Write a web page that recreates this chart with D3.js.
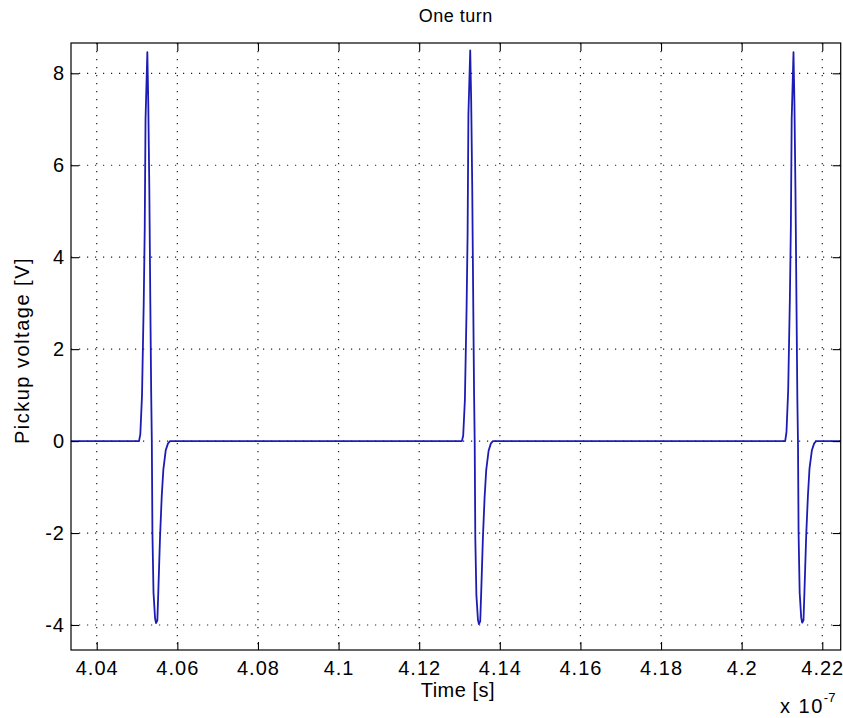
<!DOCTYPE html>
<html>
<head>
<meta charset="utf-8">
<script src="https://cdn.jsdelivr.net/npm/d3@7"></script>
<style>
  html, body { margin: 0; padding: 0; background: #fff; }
  svg { display: block; }
  text { font-family: "Liberation Sans", Arial, Helvetica, sans-serif; fill: #000; }
</style>
</head>
<body>
<svg id="chart" width="843" height="718"></svg>
<script>
// Time values are in units of 1e-7 s (the axis carries the "x 10^-7" multiplier).
const timeRange = [4.03362, 4.22457];
const voltRange = [-4.544, 8.659];

const xTicks = [4.04, 4.06, 4.08, 4.10, 4.12, 4.14, 4.16, 4.18, 4.20, 4.22];
const xTickLabels = ["4.04", "4.06", "4.08", "4.1", "4.12", "4.14", "4.16", "4.18", "4.2", "4.22"];
const yTicks = [-4, -2, 0, 2, 4, 6, 8];
const yTickLabels = ["-4", "-2", "0", "2", "4", "6", "8"];

// Flat baseline before the first pulse and after the last one
const baseStart = [[4.0300, 0]];
const baseEnd = [[4.2300, 0]];

// First pickup pulse: [time, voltage]
const pulse1 = [
  [4.05050, 0], [4.05082, 0.15], [4.05124, 1.0], [4.05166, 3.0], [4.05191, 4.6],
  [4.05211, 7.0], [4.05256, 8.46], [4.05280, 7.3], [4.05305, 5.5], [4.05330, 3.0],
  [4.05352, 1.0], [4.05367, 0], [4.05382, -2.0], [4.05409, -3.3], [4.05447, -3.85],
  [4.05471, -3.96], [4.05504, -3.9], [4.05529, -3.25], [4.05571, -2.08], [4.05613, -1.2],
  [4.05653, -0.62], [4.05712, -0.2], [4.05769, -0.05], [4.05819, 0]
];

// Second pickup pulse
const pulse2 = [
  [4.13060, 0], [4.13092, 0.12], [4.13134, 0.9], [4.13176, 2.9], [4.13201, 4.5],
  [4.13221, 7.1], [4.13266, 8.5], [4.13290, 7.4], [4.13315, 5.6], [4.13340, 3.1],
  [4.13362, 1.0], [4.13377, 0], [4.13392, -2.1], [4.13419, -3.35], [4.13457, -3.88],
  [4.13481, -3.98], [4.13514, -3.92], [4.13539, -3.28], [4.13581, -2.1], [4.13623, -1.22],
  [4.13663, -0.63], [4.13722, -0.21], [4.13779, -0.05], [4.13829, 0]
];

// Third pickup pulse
const pulse3 = [
  [4.21080, 0], [4.21112, 0.2], [4.21154, 1.1], [4.21196, 3.1], [4.21221, 4.7],
  [4.21241, 7.0], [4.21286, 8.46], [4.21310, 7.3], [4.21335, 5.4], [4.21360, 3.0],
  [4.21382, 0.9], [4.21397, 0], [4.21412, -2.0], [4.21439, -3.3], [4.21477, -3.84],
  [4.21501, -3.95], [4.21534, -3.9], [4.21559, -3.24], [4.21601, -2.06], [4.21643, -1.2],
  [4.21683, -0.6], [4.21742, -0.2], [4.21799, -0.05], [4.21849, 0]
];

const signal = [].concat(baseStart, pulse1, pulse2, pulse3, baseEnd);

const margin = { left: 71, right: 2.3, top: 43, bottom: 68 };
const W = 843, H = 718;
const plotW = W - margin.left - margin.right;
const plotH = H - margin.top - margin.bottom;

const svg = d3.select("#chart");
svg.append("rect").attr("width", W).attr("height", H).attr("fill", "#fff");

const x = d3.scaleLinear().domain(timeRange).range([0, plotW]);
const y = d3.scaleLinear().domain(voltRange).range([plotH, 0]);

const g = svg.append("g").attr("transform", `translate(${margin.left},${margin.top})`);

svg.append("defs").append("clipPath").attr("id", "plotClip")
  .append("rect").attr("width", plotW).attr("height", plotH);

// Dotted grid
const grid = g.append("g").attr("class", "grid")
  .attr("stroke", "#222").attr("stroke-width", 1.2).attr("stroke-dasharray", "1.2,6.8");
grid.selectAll("line.gx").data(xTicks).join("line").attr("class", "gx")
  .attr("x1", d => x(d)).attr("x2", d => x(d)).attr("y1", 0).attr("y2", plotH);
grid.selectAll("line.gy").data(yTicks).join("line").attr("class", "gy")
  .attr("x1", 0).attr("x2", plotW).attr("y1", d => y(d)).attr("y2", d => y(d));

// Signal trace
const line = d3.line().x(d => x(d[0])).y(d => y(d[1]));
g.append("path").datum(signal)
  .attr("clip-path", "url(#plotClip)")
  .attr("fill", "none").attr("stroke", "#1c1cb4").attr("stroke-width", 1.8)
  .attr("stroke-linejoin", "round")
  .attr("d", line);

// Axes with inward ticks on all four sides
function styleAxis(sel) {
  sel.select(".domain").remove();
  sel.selectAll(".tick line").attr("stroke", "#000").attr("stroke-width", 1.1);
  sel.selectAll(".tick text").attr("font-size", "20px").attr("letter-spacing", "1px")
    .attr("font-family", '"Liberation Sans", Arial, sans-serif').attr("fill", "#000");
}

g.append("g").attr("transform", `translate(0,${plotH})`)
  .call(d3.axisBottom(x).tickValues(xTicks).tickFormat((d, i) => xTickLabels[i])
    .tickSizeInner(-8).tickSizeOuter(0).tickPadding(11))
  .call(styleAxis);

g.append("g")
  .call(d3.axisTop(x).tickValues(xTicks).tickFormat("").tickSizeInner(-8).tickSizeOuter(0))
  .call(styleAxis);

g.append("g")
  .call(d3.axisLeft(y).tickValues(yTicks).tickFormat((d, i) => yTickLabels[i])
    .tickSizeInner(-8).tickSizeOuter(0).tickPadding(6))
  .call(styleAxis);

g.append("g").attr("transform", `translate(${plotW},0)`)
  .call(d3.axisRight(y).tickValues(yTicks).tickFormat("").tickSizeInner(-8).tickSizeOuter(0))
  .call(styleAxis);

// Axes box
g.append("rect").attr("width", plotW).attr("height", plotH)
  .attr("fill", "none").attr("stroke", "#000").attr("stroke-width", 1.2);

// Title and axis labels
svg.append("text").attr("x", margin.left + plotW / 2).attr("y", 22)
  .attr("text-anchor", "middle").attr("font-size", "18px").attr("letter-spacing", "0.5px")
  .text("One turn");

svg.append("text").attr("x", margin.left + plotW / 2 + 2).attr("y", 697)
  .attr("text-anchor", "middle").attr("font-size", "20px").attr("letter-spacing", "0.5px")
  .text("Time [s]");

svg.append("text").attr("transform", `translate(28.5,${margin.top + plotH / 2 + 4}) rotate(-90)`)
  .attr("text-anchor", "middle").attr("font-size", "20px").attr("letter-spacing", "1.5px")
  .text("Pickup voltage [V]");

const mult = svg.append("text").attr("x", 780).attr("y", 713)
  .attr("font-size", "20px").attr("letter-spacing", "1.5px");
mult.append("tspan").text("x 10");
mult.append("tspan").attr("dy", -11).attr("font-size", "13px").attr("letter-spacing", "0px").text("-7");
</script>
</body>
</html>
